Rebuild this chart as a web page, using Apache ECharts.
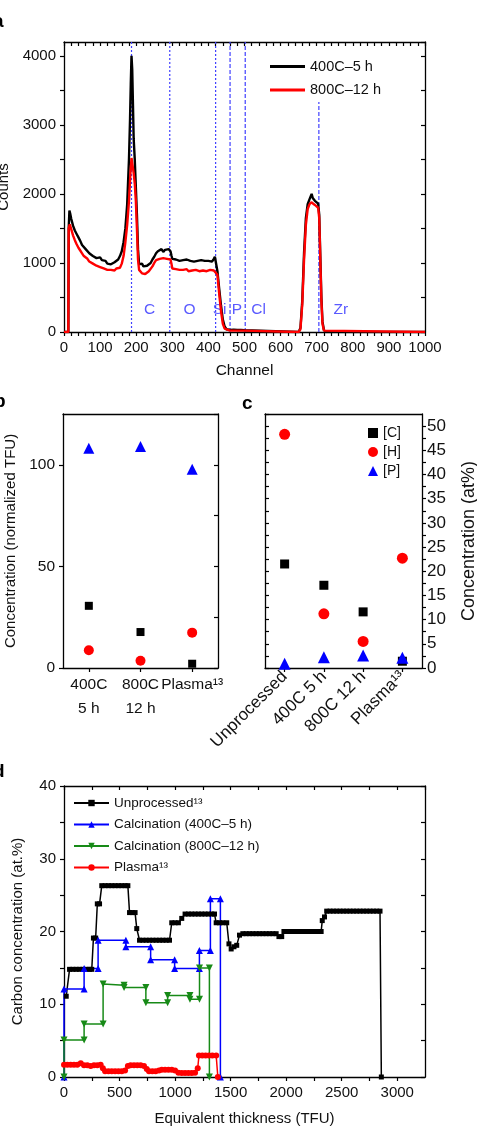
<!DOCTYPE html>
<html>
<head>
<meta charset="utf-8">
<script src="https://cdn.jsdelivr.net/npm/echarts@6/dist/echarts.min.js"></script>
<style>
  html, body { margin: 0; padding: 0; background: #fff; }
  #chart { width: 477px; height: 1126px; }
</style>
</head>
<body>
<div id="chart"></div>
<script>
// ---- panel a: RBS spectra, [channel, counts]
const spectrum400 = [
  [0,0],[12,0],[13,1500],[15,1760],[17,1720],[20,1640],[25,1540],[30,1470],[35,1420],[40,1370],
  [45,1320],[50,1260],[55,1240],[60,1200],[65,1180],[70,1140],[75,1130],[80,1100],[85,1090],[90,1070],
  [95,1060],[100,1080],[105,1040],[110,1020],[115,1030],[120,990],[125,1010],[130,980],[135,1000],[140,1010],
  [145,1030],[150,1050],[155,1100],[160,1170],[165,1300],[170,1500],[175,1850],[180,2500],[183,3100],[185,3600],
  [187,4000],[189,3800],[191,3300],[193,2800],[196,2500],[199,2100],[202,1700],[205,1200],[208,980],[212,960],
  [216,990],[220,950],[225,970],[230,960],[235,980],[240,1000],[245,1050],[250,1090],[255,1140],[260,1170],
  [265,1180],[270,1200],[275,1160],[280,1190],[285,1180],[290,1200],[295,1170],[298,1100],[300,1060],[305,1070],
  [310,1050],[315,1060],[320,1030],[325,1050],[330,1040],[335,1020],[340,1050],[345,1030],[350,1030],[355,1040],
  [360,1020],[365,1040],[370,1030],[375,1010],[380,1040],[385,1020],[390,1030],[395,1010],[400,1030],[405,1040],
  [410,1020],[415,1060],[418,1090],[421,1000],[425,880],[430,620],[435,380],[440,180],[445,80],[450,40],
  [460,30],[470,35],[480,30],[490,30],[500,25],[505,0],[650,0],[655,60],[660,450],[665,1150],
  [670,1650],[675,1850],[680,1920],[683,1960],[686,2000],[689,1940],[692,1960],[695,1900],[700,1890],[704,1860],
  [707,1700],[710,1100],[713,500],[716,150],[720,30],[725,0],[1000,0]
];
const spectrum800 = [
  [0,0],[12,0],[13,1500],[16,1560],[20,1490],[25,1400],[30,1330],[35,1270],[40,1220],[45,1180],
  [50,1140],[55,1100],[60,1080],[65,1060],[70,1020],[75,1010],[80,990],[85,980],[90,960],[95,950],
  [100,940],[105,930],[110,920],[115,910],[120,900],[125,920],[130,900],[135,910],[140,890],[145,920],
  [150,910],[155,930],[160,990],[165,1100],[170,1300],[175,1550],[180,1900],[184,2300],[187,2520],[190,2500],
  [193,2300],[196,2150],[199,1900],[202,1500],[205,1050],[208,900],[212,880],[216,850],[220,870],[225,840],
  [230,860],[235,880],[240,900],[245,950],[250,1000],[255,1040],[260,1050],[265,1060],[270,1040],[275,1070],
  [280,1050],[285,1060],[290,1070],[295,1050],[298,980],[300,920],[305,900],[310,910],[315,890],[320,900],
  [325,880],[330,900],[335,890],[340,910],[345,880],[350,900],[355,890],[360,880],[365,900],[370,890],
  [375,880],[380,900],[385,890],[390,900],[395,880],[400,890],[405,900],[410,880],[415,890],[420,900],
  [425,830],[430,550],[435,300],[440,120],[445,50],[450,25],[460,20],[500,20],[505,0],[650,0],
  [655,40],[660,400],[665,1050],[670,1550],[675,1780],[680,1850],[685,1880],[690,1860],[695,1840],[700,1820],
  [704,1800],[707,1650],[710,1050],[713,450],[716,120],[720,20],[725,0],[1000,0]
];
const elemLineX = [187, 293, 420, 460, 502, 706];
const elemLineTop = [4200, 4200, 4200, 4200, 4200, 3330];
const elemNames = ['C', 'O', 'Si', 'P', 'Cl', 'Zr'];
const elemLabelX = [237, 348, 431, 479, 539, 767];
const elemLabelY = 324;

// ---- panels b and c
const bCategories = ['400C\n5 h', '800C\n12 h', 'Plasma\u00B9\u00B3'];
const bC = [30.6, 17.7, 2.1];
const bH = [8.7, 3.6, 17.4];
const bP = [108.2, 109, 97.8];

const cCategories = ['Unprocessed', '400C 5 h', '800C 12 h', 'Plasma\u00B9\u00B3'];
const cC = [21.5, 17.1, 11.6, 1.4];
const cH = [48.3, 11.2, 5.5, 22.7];
const cP = [0.9, 2.2, 2.6, 2.1];

// ---- panel d: depth profiles, [TFU, at.%]
const unprocessed = [
  [20,11.1],[50,14.8],[80,14.8],[110,14.8],[140,14.8],[170,14.8],[200,14.8],[230,14.8],[250,14.8],[265,19.1],
  [285,19.1],[300,23.8],[320,23.8],[340,26.3],[370,26.3],[400,26.3],[430,26.3],[460,26.3],[490,26.3],[520,26.3],
  [550,26.3],[575,26.3],[590,22.6],[615,22.6],[640,22.6],[655,20.4],[680,18.8],[710,18.8],[740,18.8],[770,18.8],
  [800,18.8],[830,18.8],[860,18.8],[890,18.8],[920,18.8],[950,18.8],[970,21.2],[1000,21.2],[1030,21.2],[1060,21.8],
  [1090,22.4],[1120,22.4],[1150,22.4],[1180,22.4],[1210,22.4],[1240,22.4],[1270,22.4],[1300,22.4],[1330,22.4],[1355,22.4],
  [1370,21.2],[1400,21.2],[1430,21.2],[1465,21.2],[1485,18.3],[1505,17.6],[1530,17.9],[1555,18.1],[1580,19.5],[1610,19.7],
  [1640,19.7],[1670,19.7],[1700,19.7],[1730,19.7],[1760,19.7],[1790,19.7],[1820,19.7],[1850,19.7],[1880,19.7],[1910,19.7],
  [1935,19.3],[1960,19.3],[1980,20.0],[2010,20.0],[2040,20.0],[2070,20.0],[2100,20.0],[2130,20.0],[2160,20.0],[2190,20.0],
  [2220,20.0],[2250,20.0],[2280,20.0],[2315,20.0],[2325,21.5],[2345,22.0],[2365,22.8],[2395,22.8],[2425,22.8],[2455,22.8],
  [2485,22.8],[2515,22.8],[2545,22.8],[2575,22.8],[2605,22.8],[2635,22.8],[2665,22.8],[2695,22.8],[2725,22.8],[2755,22.8],
  [2785,22.8],[2815,22.8],[2845,22.8],[2857,0]
];
const calc400 = [
  [0,0],[0,12.1],[181,12.1],[181,14.9],[307,14.9],[307,18.8],[557,18.8],[557,17.9],[780,17.9],[780,16.1],
  [996,16.1],[996,14.9],[1219,14.9],[1219,17.4],[1318,17.4],[1318,24.5],[1408,24.5],[1408,0]
];
const calc800 = [
  [0,0],[0,5.1],[181,5.1],[181,7.3],[352,7.3],[352,12.8],[541,12.6],[541,12.3],[737,12.3],[737,10.2],
  [933,10.2],[933,11.2],[1134,11.2],[1134,10.7],[1220,10.7],[1220,15.0],[1309,15.0],[1309,0]
];
const plasma = [
  [0,1.7],[30,1.7],[60,1.7],[90,1.7],[120,1.7],[151,1.9],[180,1.6],[210,1.6],[240,1.5],[270,1.6],
  [300,1.6],[330,1.7],[350,1.2],[370,0.8],[400,0.8],[430,0.8],[460,0.8],[490,0.8],[520,0.8],[550,0.9],
  [575,1.5],[600,1.6],[630,1.6],[660,1.6],[690,1.6],[720,1.5],[745,1.1],[765,0.8],[795,0.8],[825,0.8],
  [855,0.9],[880,1.0],[910,1.0],[940,1.0],[970,1.0],[1000,0.9],[1030,0.6],[1060,0.55],[1090,0.55],[1120,0.55],
  [1150,0.55],[1180,0.6],[1204,1.2],[1215,2.95],[1245,2.95],[1275,2.95],[1305,2.95],[1335,2.95],[1370,2.95],[1385,0]
];

const FONT = '"Liberation Sans", Arial, Helvetica, sans-serif';
const INK = '#111';
const ELEM_BLUE = '#3f3fff';

function axis(p) {
  const a = {
    type: p.type || 'value',
    gridIndex: p.grid,
    position: p.pos,
    axisLine: { show: true, onZero: false, lineStyle: { color: '#000', width: 1.3 } },
    splitLine: { show: false },
    axisTick: {
      show: p.tick !== false, inside: !!p.inside, length: p.tickLen || 4,
      alignWithLabel: true, lineStyle: { color: '#000', width: 1.2 }
    },
    minorTick: { show: !!p.minor, splitNumber: p.minor || 5, length: 3, lineStyle: { color: '#000', width: 1 } },
    axisLabel: {
      show: !!p.labels, margin: p.margin || 8, color: INK, fontFamily: FONT, fontSize: p.fs || 15
    }
  };
  if (a.type === 'category') {
    a.data = p.data;
    a.boundaryGap = true;
    a.axisLabel.interval = 0;
    a.axisTick.interval = 0;
  } else {
    a.min = p.min; a.max = p.max; a.interval = p.interval;
    a.axisLabel.showMaxLabel = !!p.showMax;
    if (p.every) a.axisLabel.formatter = v => (Math.abs(v / p.every - Math.round(v / p.every)) < 1e-6 ? String(v) : '');
  }
  if (p.rotate) a.axisLabel.rotate = p.rotate;
  if (p.lineHeight) a.axisLabel.lineHeight = p.lineHeight;
  if (p.name) {
    a.name = p.name;
    a.nameLocation = 'middle';
    a.nameGap = p.nameGap;
    if (p.nameRotate !== undefined) a.nameRotate = p.nameRotate;
    a.nameTextStyle = { color: INK, fontFamily: FONT, fontSize: p.nameFs || 15 };
  }
  return a;
}

const chart = echarts.init(document.getElementById('chart'), null, { renderer: 'canvas' });

// vertical element guide lines in panel a, one small series each
const elemLineSeries = elemLineX.map((x, i) => ({
  type: 'line', name: 'guide-' + elemNames[i], xAxisIndex: 0, yAxisIndex: 0, silent: true,
  data: [[x, 0], [x, elemLineTop[i]]], symbol: 'none', z: 1, color: ELEM_BLUE,
  lineStyle: { color: ELEM_BLUE, width: 1.2, type: i < 3 ? [2, 2] : [4, 2] }
}));

const scatterStyle = { opacity: 1 };
const legendText = size => ({ color: INK, fontFamily: FONT, fontSize: size });

const option = {
  animation: false,
  backgroundColor: '#fff',
  textStyle: { fontFamily: FONT },
  grid: [
    { left: 64, top: 42, width: 361, height: 290, outerBoundsMode: 'none' },
    { left: 63, top: 414, width: 155, height: 254, outerBoundsMode: 'none' },
    { left: 265, top: 414, width: 157, height: 254, outerBoundsMode: 'none' },
    { left: 64, top: 786, width: 361, height: 291, outerBoundsMode: 'none' }
  ],
  xAxis: [
    axis({ grid: 0, pos: 'bottom', min: 0, max: 1000, interval: 20, every: 100, showMax: true, labels: true,
      name: 'Channel', nameGap: 31, nameFs: 15.5 }),
    axis({ grid: 0, pos: 'top', min: 0, max: 1000, interval: 20, inside: true }),
    axis({ grid: 1, pos: 'bottom', type: 'category', data: bCategories, labels: true, fs: 15.5,
      lineHeight: 24, margin: 5 }),
    axis({ grid: 1, pos: 'top', type: 'category', data: bCategories, tick: false }),
    axis({ grid: 2, pos: 'bottom', type: 'category', data: cCategories, labels: true, fs: 17,
      rotate: 45, margin: 6 }),
    axis({ grid: 2, pos: 'top', type: 'category', data: cCategories, tick: false }),
    axis({ grid: 3, pos: 'bottom', min: 0, max: 3250, interval: 250, every: 500, labels: true,
      name: 'Equivalent thickness (TFU)', nameGap: 34 }),
    axis({ grid: 3, pos: 'top', min: 0, max: 3250, interval: 250, inside: true })
  ],
  yAxis: [
    axis({ grid: 0, pos: 'left', min: 0, max: 4200, interval: 500, every: 1000, labels: true,
      name: 'Counts', nameGap: 53 }),
    axis({ grid: 0, pos: 'right', min: 0, max: 4200, interval: 500, inside: true }),
    axis({ grid: 1, pos: 'left', min: 0, max: 125, interval: 50, labels: true, fs: 15.5,
      name: 'Concentration (normalized TFU)', nameGap: 45 }),
    axis({ grid: 1, pos: 'right', min: 0, max: 125, interval: 25, inside: true }),
    axis({ grid: 2, pos: 'right', min: 0, max: 52.5, interval: 2.5, every: 5, labels: true, fs: 17, margin: 5,
      name: 'Concentration (at%)', nameGap: 38, nameRotate: 90, nameFs: 18 }),
    axis({ grid: 2, pos: 'left', min: 0, max: 52.5, interval: 2.5, inside: true }),
    axis({ grid: 3, pos: 'left', min: 0, max: 40, interval: 5, every: 10, showMax: true, labels: true,
      name: 'Carbon concentration (at.%)', nameGap: 39 }),
    axis({ grid: 3, pos: 'right', min: 0, max: 40, interval: 5, inside: true })
  ],
  legend: [
    {
      data: ['400C\u20135 h', '800C\u201312 h'], orient: 'vertical', left: 270, top: 59, padding: 0,
      icon: 'rect', itemWidth: 35, itemHeight: 3, itemGap: 8.5,
      textStyle: legendText(14.5)
    },
    {
      data: ['[C]', '[H]', '[P]'], orient: 'vertical', left: 368, top: 426, padding: 0,
      itemWidth: 10, itemHeight: 10, itemGap: 5,
      textStyle: legendText(14)
    },
    {
      data: ['Unprocessed\u00B9\u00B3', 'Calcination (400C\u20135 h)', 'Calcination (800C\u201312 h)', 'Plasma\u00B9\u00B3'],
      orient: 'vertical', left: 73, top: 796, padding: 0,
      itemWidth: 35, itemHeight: 8, itemGap: 7.5,
      textStyle: legendText(13.5)
    }
  ],
  graphic: [
    { type: 'text', left: -7, top: 12, style: { text: 'a', font: 'bold 19px ' + FONT, fill: '#000' } },
    { type: 'text', left: -6, top: 392, style: { text: 'b', font: 'bold 19px ' + FONT, fill: '#000' } },
    { type: 'text', left: 242, top: 394, style: { text: 'c', font: 'bold 19px ' + FONT, fill: '#000' } },
    { type: 'text', left: -7, top: 762, style: { text: 'd', font: 'bold 19px ' + FONT, fill: '#000' } }
  ],
  series: elemLineSeries.concat([
    // panel a
    {
      type: 'line', name: '400C\u20135 h', xAxisIndex: 0, yAxisIndex: 0, data: spectrum400, z: 2,
      symbol: 'none', color: '#000', lineStyle: { color: '#000', width: 2.4 }
    },
    {
      type: 'line', name: '800C\u201312 h', xAxisIndex: 0, yAxisIndex: 0, data: spectrum800, z: 3,
      symbol: 'none', color: '#ff0000', lineStyle: { color: '#ff0000', width: 2.4 }
    },
    {
      type: 'scatter', name: 'elements', xAxisIndex: 0, yAxisIndex: 0, silent: true,
      data: elemLabelX.map((x, i) => [x, elemLabelY, elemNames[i]]),
      symbolSize: 1, itemStyle: { color: 'rgba(0,0,0,0)' },
      label: { show: true, position: 'inside', formatter: p => p.data[2], color: '#3030ff', fontFamily: FONT, fontSize: 15.5 }
    },
    // panel b
    { type: 'scatter', name: '[C]', xAxisIndex: 2, yAxisIndex: 2, data: bC, symbol: 'rect', symbolSize: 8, color: '#000', itemStyle: scatterStyle },
    { type: 'scatter', name: '[H]', xAxisIndex: 2, yAxisIndex: 2, data: bH, symbol: 'circle', symbolSize: 10, color: '#ff0000', itemStyle: scatterStyle },
    { type: 'scatter', name: '[P]', xAxisIndex: 2, yAxisIndex: 2, data: bP, symbol: 'triangle', symbolSize: 11, color: '#0000ff', itemStyle: scatterStyle },
    // panel c
    { type: 'scatter', name: '[C]', xAxisIndex: 4, yAxisIndex: 4, data: cC, symbol: 'rect', symbolSize: 9, color: '#000', itemStyle: scatterStyle },
    { type: 'scatter', name: '[H]', xAxisIndex: 4, yAxisIndex: 4, data: cH, symbol: 'circle', symbolSize: 11, color: '#ff0000', itemStyle: scatterStyle },
    { type: 'scatter', name: '[P]', xAxisIndex: 4, yAxisIndex: 4, data: cP, symbol: 'triangle', symbolSize: 12, color: '#0000ff', itemStyle: scatterStyle },
    // panel d
    {
      type: 'line', name: 'Unprocessed\u00B9\u00B3', xAxisIndex: 6, yAxisIndex: 6, data: unprocessed,
      symbol: 'rect', symbolSize: 5, showSymbol: true, color: '#000', lineStyle: { color: '#000', width: 1.5 }
    },
    {
      type: 'line', name: 'Calcination (400C\u20135 h)', xAxisIndex: 6, yAxisIndex: 6, data: calc400,
      symbol: 'triangle', symbolSize: 7, showSymbol: true, color: '#0000ff', lineStyle: { color: '#0000ff', width: 1.5 }
    },
    {
      type: 'line', name: 'Calcination (800C\u201312 h)', xAxisIndex: 6, yAxisIndex: 6, data: calc800,
      symbol: 'triangle', symbolRotate: 180, symbolSize: 7, showSymbol: true, color: '#178a17',
      lineStyle: { color: '#178a17', width: 1.5 }
    },
    {
      type: 'line', name: 'Plasma\u00B9\u00B3', xAxisIndex: 6, yAxisIndex: 6, data: plasma,
      symbol: 'circle', symbolSize: 6, showSymbol: true, color: '#ff0000', lineStyle: { color: '#ff0000', width: 1.5 }
    }
  ])
};

chart.setOption(option);
</script>
</body>
</html>
